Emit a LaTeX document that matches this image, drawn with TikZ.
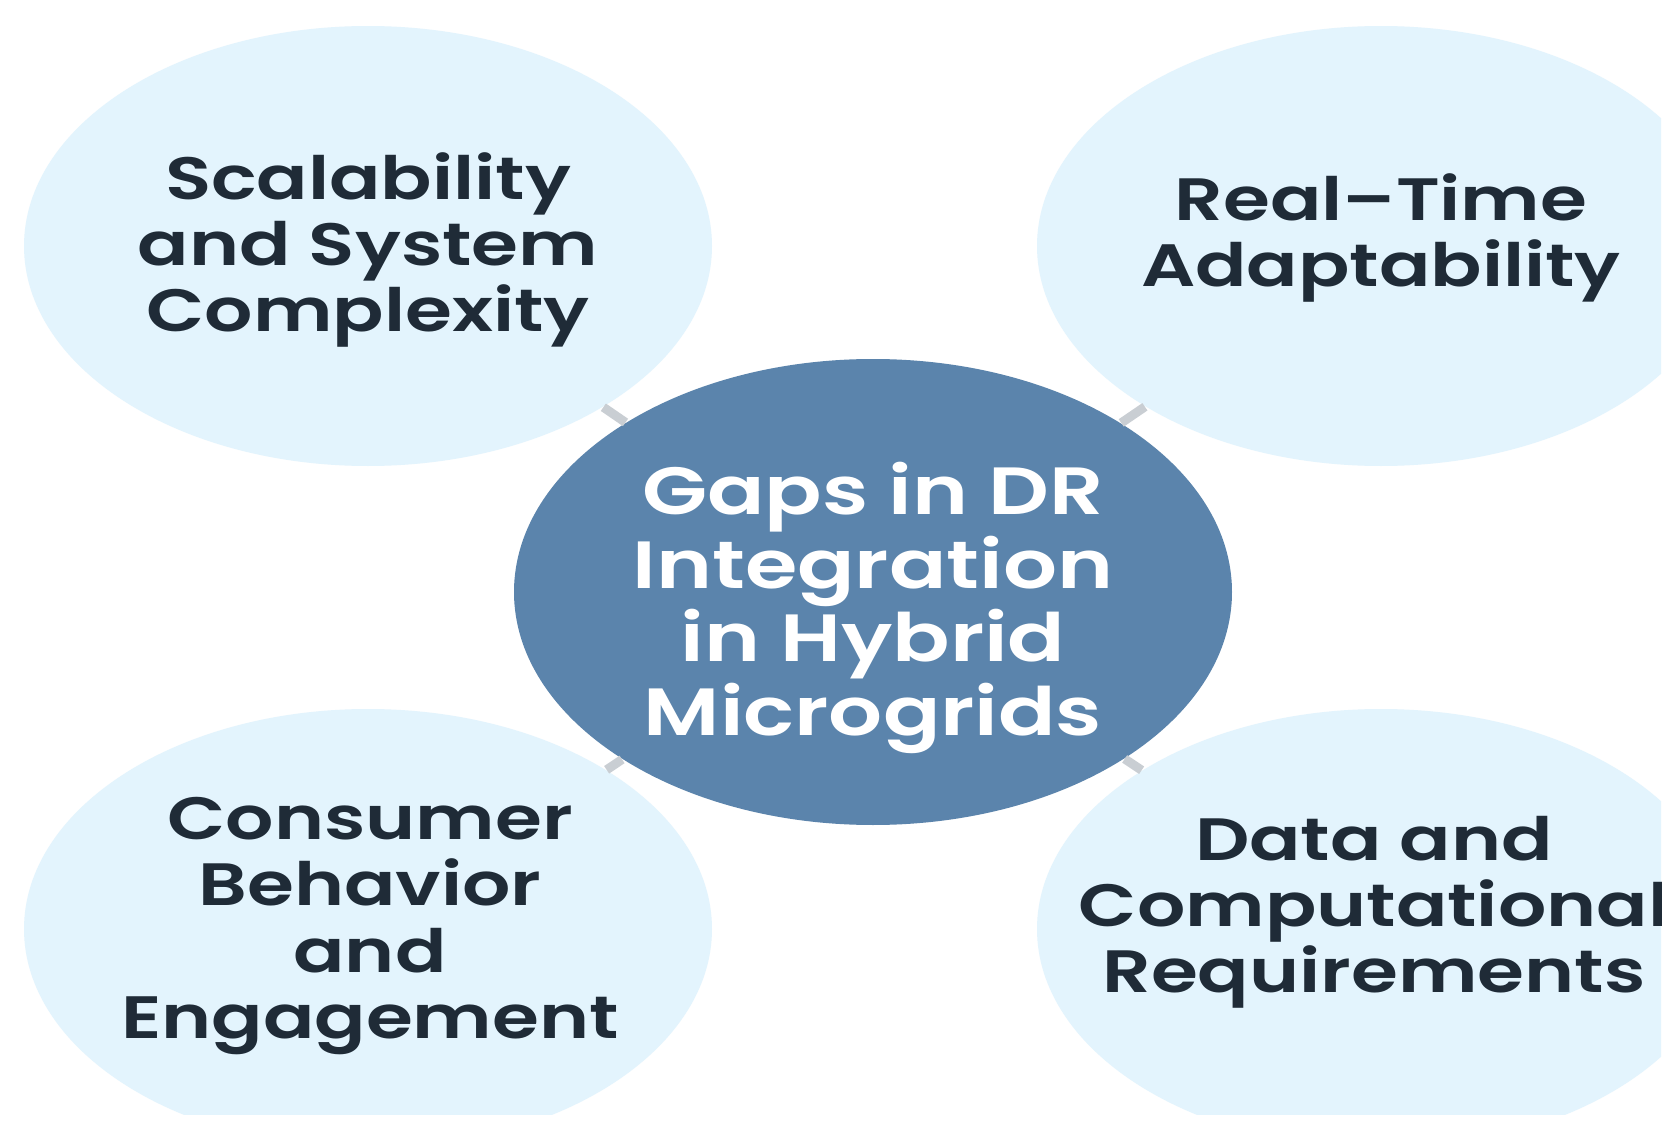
\documentclass[tikz,border=0pt]{standalone}
\usepackage{fontspec}
\setmainfont{Poppins}
\newfontfamily\gapfont{Poppins SemiBold}[FakeStretch=1.27, Ligatures=TeX]
\usetikzlibrary{shapes.geometric}

\definecolor{gapfill}{HTML}{E3F4FD}
\definecolor{hubfill}{HTML}{5B84AC}
\definecolor{gapink}{HTML}{1F2B37}
\definecolor{linkgray}{HTML}{C9CED3}

\newlength{\px}
\setlength{\px}{0.1mm}
\newcommand{\gapn}{\node[ellipse, fill=gapfill, inner sep=0pt, minimum width=688\px, minimum height=440\px]}
\newcommand{\hubn}{\node[ellipse, fill=hubfill, inner sep=0pt, minimum width=718\px, minimum height=466\px]}
\newcommand{\gapt}{\node[align=center, text=gapink, font=\fontsize{17pt}{18.8pt}\gapfont]}
\newcommand{\hubt}{\node[align=center, text=white, font=\fontsize{19pt}{20.9pt}\gapfont]}

\begin{document}
\begin{tikzpicture}[x=\px, y=-\px]
            \useasboundingbox (0,0) rectangle (1680,1142);
            \fill[white] (0,0) rectangle (1680,1142);

            \begin{scope}
            \clip (0,0) rectangle (1661,1114);
            \hubn (hub) at (873, 592) {};
            \gapn (scal) at (368, 246) {};
            \gapn (rt) at (1381, 246) {};
            \gapn (cons) at (368, 929) {};
            \gapn (data) at (1381, 929) {};

            \draw[linkgray, line width=9\px]
                (hub) -- (scal)
                (hub) -- (rt)
                (hub) -- (cons)
                (hub) -- (data)
                ;

            \hubt (hubtxt) at (873, 608) {Gaps in DR\\Integration\\in Hybrid\\Microgrids};
            \gapt (scaltxt) at (368, 250) {Scalability\\and System\\Complexity};
            \gapt (rttxt) at (1381, 238) {Real--Time\\Adaptability};
            \gapt (constxt) at (370, 926) {Consumer\\Behavior\\and\\Engagement};
            \gapt (datatxt) at (1374, 912) {Data and\\Computational\\Requirements};
            \end{scope}
\end{tikzpicture}
\end{document}
